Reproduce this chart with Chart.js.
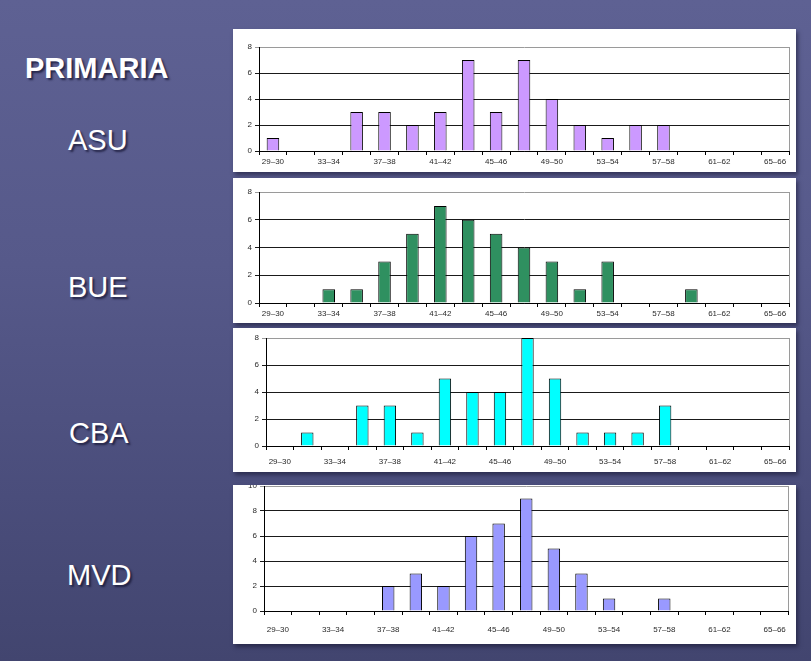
<!DOCTYPE html>
<html>
<head>
<meta charset="utf-8">
<script src="https://cdn.jsdelivr.net/npm/chart.js@4.4.0/dist/chart.umd.min.js"></script>
<style>
  html, body { margin: 0; padding: 0; }
  body {
    width: 811px; height: 661px; overflow: hidden; position: relative;
    background: linear-gradient(180deg, #5e6193 0%, #56598a 40%, #4a4d7b 75%, #42456f 100%);
    font-family: "Liberation Sans", Arial, sans-serif;
  }
  .side {
    position: absolute; color: #ffffff; font-size: 29px; line-height: 29px;
    text-shadow: 2px 2px 2px rgba(20, 20, 50, 0.75);
    white-space: nowrap;
  }
  .side.title { font-weight: bold; }
  .panel {
    position: absolute; background: #ffffff; overflow: hidden;
    box-shadow: 2px 3px 4px rgba(20, 20, 45, 0.55);
  }
  .panel canvas { position: absolute; left: 0; }
</style>
</head>
<body>
<div class="side title" style="left:25px; top:54px;">PRIMARIA</div>
<div class="side" style="left:68px; top:126px;">ASU</div>
<div class="side" style="left:68px; top:273px;">BUE</div>
<div class="side" style="left:69px; top:419px;">CBA</div>
<div class="side" style="left:67px; top:561px;">MVD</div>

<div class="panel" id="pASU" style="left:233px; top:29px; width:563px; height:143px;">
  <canvas id="cASU" width="563" height="143" style="top:0"></canvas>
</div>
<div class="panel" id="pBUE" style="left:233px; top:178px; width:563px; height:145px;">
  <canvas id="cBUE" width="563" height="145" style="top:0"></canvas>
</div>
<div class="panel" id="pCBA" style="left:233px; top:328px; width:563px; height:144px;">
  <canvas id="cCBA" width="563" height="144" style="top:0"></canvas>
</div>
<div class="panel" id="pMVD" style="left:233px; top:485px; width:563px; height:159px;">
  <canvas id="cMVD" width="563" height="171" style="top:-12px"></canvas>
</div>

<script>
// Age bins (years)
const ageBins = ['29–30','31–32','33–34','35–36','37–38','39–40','41–42','43–44','45–46','47–48',
                 '49–50','51–52','53–54','55–56','57–58','59–60','61–62','63–64','65–66'];

// Counts per bin for each city
const asuCounts = [1,0,0,3,3,2,3,7,3,7,4,2,1,2,2,0,0,0,0];
const bueCounts = [0,0,1,1,3,5,7,6,5,4,3,1,3,0,0,1,0,0,0];
const cbaCounts = [0,1,0,3,3,1,5,4,4,8,5,1,1,1,3,0,0,0,0];
const mvdCounts = [0,0,0,0,2,3,2,6,7,9,5,3,1,0,1,0,0,0,0];

// Value axis ranges
const asuMax = 8, bueMax = 8, cbaMax = 8, mvdMax = 10;
const yStep = 2;

// Gray frame line on the right of the plot area
const rightFrame = {
  id: 'rightFrame',
  afterDraw(chart) {
    const a = chart.chartArea, ctx = chart.ctx;
    ctx.save();
    ctx.strokeStyle = '#9a9a9a';
    ctx.lineWidth = 1;
    ctx.beginPath();
    ctx.moveTo(Math.round(a.right) + 0.5, a.top);
    ctx.lineTo(Math.round(a.right) + 0.5, a.bottom);
    ctx.stroke();
    ctx.restore();
  }
};

function histogram(canvasId, counts, color, yMax, g) {
  new Chart(document.getElementById(canvasId), {
    type: 'bar',
    data: {
      labels: ageBins,
      datasets: [{
        data: counts,
        backgroundColor: color,
        borderColor: '#000000',
        borderWidth: 1,
        borderSkipped: 'start',
        categoryPercentage: 1.0,
        barPercentage: 0.45
      }]
    },
    options: {
      responsive: false,
      animation: false,
      devicePixelRatio: 1,
      layout: { padding: { left: 0, top: g.top, right: g.right, bottom: 0 } },
      plugins: { legend: { display: false }, tooltip: { enabled: false } },
      scales: {
        x: {
          offset: true,
          grid: { offset: true, drawOnChartArea: false, drawTicks: true, tickLength: 4, color: '#000000' },
          border: { display: true, color: '#000000', width: 1 },
          ticks: {
            autoSkip: false, maxRotation: 0, minRotation: 0,
            padding: g.labelPad, color: '#2a2a2a',
            font: { family: 'Liberation Sans, Arial, sans-serif', size: 8 },
            callback: (v, i) => (i % 2 === 0 ? ageBins[i] : '')
          },
          afterFit: s => { s.height = g.xh; }
        },
        y: {
          min: 0, max: yMax,
          grid: {
            drawTicks: true, tickLength: 4,
            color: ctx => (ctx.tick && ctx.tick.value === yMax ? '#9a9a9a' : '#1a1a1a'),
            lineWidth: 1
          },
          border: { display: true, color: '#000000', width: 1 },
          ticks: {
            stepSize: yStep, padding: 3, color: '#2a2a2a',
            font: { family: 'Liberation Sans, Arial, sans-serif', size: 8 }
          },
          afterFit: s => { s.width = g.yw; }
        }
      }
    },
    plugins: [rightFrame]
  });
}

histogram('cASU', asuCounts, '#cc99ff', asuMax, { top: 18, right: 7, yw: 26, xh: 21, labelPad: 2 });
histogram('cBUE', bueCounts, '#2f9060', bueMax, { top: 14, right: 7, yw: 26, xh: 20, labelPad: 2 });
histogram('cCBA', cbaCounts, '#00ffff', cbaMax, { top: 10, right: 7, yw: 33, xh: 26, labelPad: 7 });
histogram('cMVD', mvdCounts, '#9999ff', mvdMax, { top: 13, right: 7, yw: 31, xh: 33, labelPad: 10 });
</script>
</body>
</html>
